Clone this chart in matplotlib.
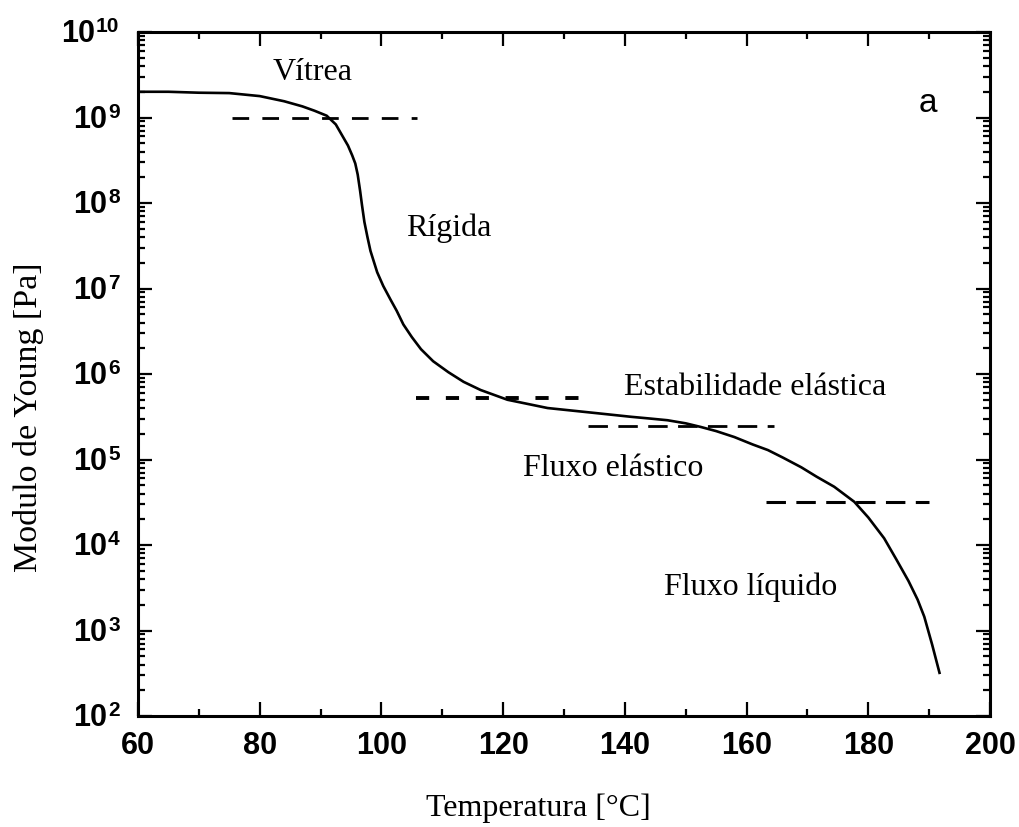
import matplotlib
matplotlib.use("Agg")
import matplotlib.pyplot as plt
from matplotlib.ticker import LogLocator, MultipleLocator, FixedLocator, NullFormatter

plt.rcParams['lines.scale_dashes'] = False

# curve
temp = [60, 65, 70, 75, 80, 84, 87, 89, 91, 92.5, 93.7, 94.5, 95.2, 95.7, 96.1,
        96.5, 96.8, 97.2, 97.7, 98.2, 99.3, 100.3, 101.5, 102.5, 103.6, 105,
        106.5, 108.5, 111, 113.5, 116.3, 120.7, 127.3, 135.6, 141, 144, 147,
        150, 152.5, 155, 158, 161, 163.5, 166, 169, 171.5, 174.4, 177.7, 180,
        182.6, 184.6, 186.6, 188.1, 189.2, 190.5, 191.7]
modulus = [2.0e9, 2.0e9, 1.95e9, 1.93e9, 1.78e9, 1.55e9, 1.35e9, 1.2e9, 1.05e9,
           8.3e8, 5.9e8, 4.7e8, 3.6e8, 2.9e8, 2.15e8, 1.38e8, 9.5e7, 6.0e7,
           4.0e7, 2.75e7, 1.55e7, 1.07e7, 7.4e6, 5.5e6, 3.8e6, 2.7e6, 1.95e6,
           1.41e6, 1.05e6, 8.1e5, 6.5e5, 5.0e5, 4.0e5, 3.47e5, 3.16e5, 3.02e5,
           2.88e5, 2.65e5, 2.4e5, 2.15e5, 1.83e5, 1.5e5, 1.29e5, 1.05e5, 8.1e4,
           6.3e4, 4.8e4, 3.2e4, 2.1e4, 1.2e4, 6.8e3, 3.8e3, 2.3e3, 1.45e3,
           6.8e2, 3.2e2]

# dashed reference levels
ref_level = [1e9, 5.3e5, 2.45e5, 3.2e4]
ref_start = [75.5, 105.6, 134.0, 163.2]
ref_end = [105.9, 132.4, 164.5, 190.0]

regions = ["Vítrea", "Rígida", "Estabilidade elástica", "Fluxo elástico", "Fluxo líquido"]
region_x = [82.1, 104.1, 139.8, 123.2, 146.4]
region_y = [3.4e9, 5.1e7, 6.9e5, 7.9e4, 3.2e3]

xticks = [60, 80, 100, 120, 140, 160, 180, 200]
yexp = [2, 3, 4, 5, 6, 7, 8, 9, 10]

fig = plt.figure(figsize=(10.2, 8.27), dpi=100)
ax = fig.add_axes([0.1353, 0.1342, 0.8353, 0.8271])

ax.plot(temp, modulus, color='black', lw=1.9)

dash_styles = [(12, 9.5), (9.5, 12), (14, 7.5), (14, 7.5)]
dash_lw = [2.0, 2.8, 2.0, 2.2]
for lev, s, e, d, w in zip(ref_level, ref_start, ref_end, dash_styles, dash_lw):
    ax.plot([s, e], [lev, lev], color='black', lw=w, dashes=d)

ax.set_yscale('log')
ax.set_xlim(60, 200)
ax.set_ylim(1e2, 1e10)

ax.xaxis.set_major_locator(FixedLocator(xticks))
ax.xaxis.set_minor_locator(MultipleLocator(10))
ax.set_xticklabels([str(t) for t in xticks])
ax.yaxis.set_major_locator(FixedLocator([10.0 ** k for k in yexp]))
ax.yaxis.set_minor_locator(LogLocator(base=10, subs=range(2, 10), numticks=20))
ax.yaxis.set_minor_formatter(NullFormatter())

ax.tick_params(which='both', direction='in', top=True, right=True, width=1.6)
ax.tick_params(which='major', length=10)
ax.tick_params(which='minor', length=5)
ax.tick_params(axis='x', which='major', labelsize=22, pad=11)
ax.tick_params(axis='y', labelleft=False)
for lab in ax.get_xticklabels():
    lab.set_fontweight('bold')
    lab.set_family('Liberation Sans')

# y tick labels: big "10" with a small exponent, as in the original
px = 72 / 100
for k in yexp:
    dx = -31 - (len(str(k)) - 1) * 12
    ax.annotate('10', xy=(0, 10.0 ** k), xycoords=('axes fraction', 'data'),
                xytext=(dx * px, -10 * px), textcoords='offset points',
                ha='right', va='baseline', fontsize=22, fontweight='bold',
                family='Liberation Sans', annotation_clip=False)
    ax.annotate(str(k), xy=(0, 10.0 ** k), xycoords=('axes fraction', 'data'),
                xytext=((dx + 1) * px, 0), textcoords='offset points',
                ha='left', va='baseline', fontsize=15, fontweight='bold',
                family='Liberation Sans', annotation_clip=False)

for sp in ax.spines.values():
    sp.set_linewidth(2.2)

for txt, x, y in zip(regions, region_x, region_y):
    ax.text(x, y, txt, fontsize=23, family='Liberation Serif', va='center', ha='left')

ax.text(188.3, 1.45e9, 'a', fontsize=24, family='Liberation Sans', va='center', ha='left')

fig.text(0.528, 0.023, 'Temperatura [°C]', fontsize=23, family='Liberation Serif',
         ha='center', va='center')
fig.text(0.028, 0.495, 'Modulo de Young [Pa]', fontsize=24.5, family='Liberation Serif',
         ha='center', va='center', rotation=90)

fig.savefig('out.png', dpi=100)
